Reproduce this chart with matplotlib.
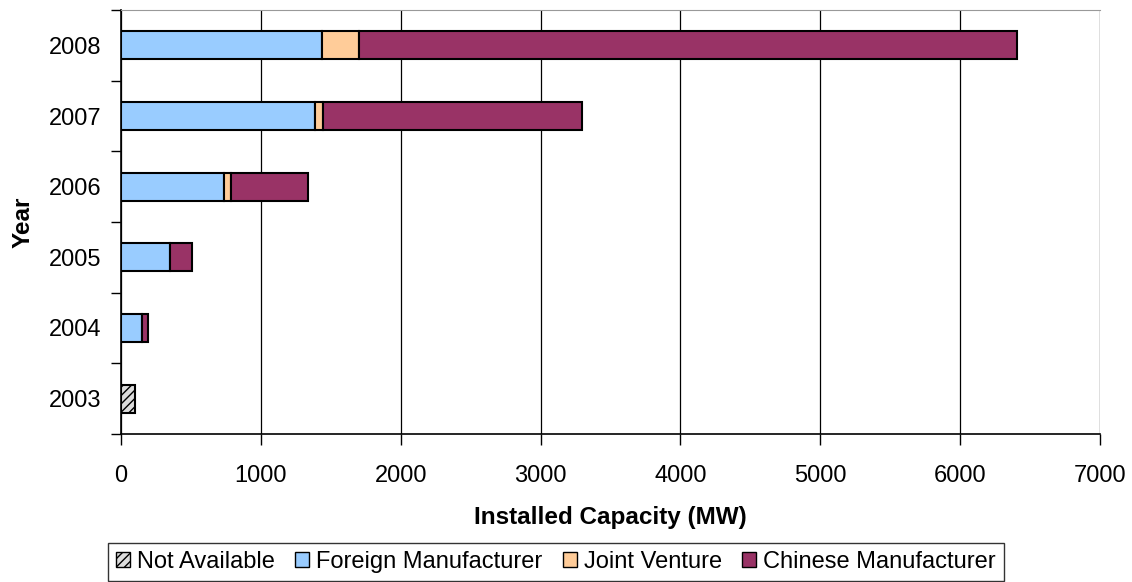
import matplotlib
matplotlib.use('Agg')
import matplotlib.pyplot as plt
import numpy as np
from matplotlib.patches import Patch

plt.rcParams['font.family'] = ['Liberation Sans', 'DejaVu Sans']
plt.rcParams['hatch.color'] = '#666666'
plt.rcParams['hatch.linewidth'] = 1.0

# data (MW)
years = ['2003', '2004', '2005', '2006', '2007', '2008']
not_available = [98, 0, 0, 0, 0, 0]
foreign = [0, 152, 352, 736, 1386, 1440]
joint_venture = [0, 0, 0, 54, 57, 260]
chinese = [0, 38, 155, 546, 1850, 4707]

series = ['Not Available', 'Foreign Manufacturer', 'Joint Venture', 'Chinese Manufacturer']
colors = ['#DDDDDD', '#99CCFF', '#FFCC99', '#993366']
hatches = ['////', None, None, None]

fig = plt.figure(figsize=(11.32, 5.82), dpi=100)
ax = fig.add_axes([121 / 1132, 1 - 434 / 582, (1100 - 121) / 1132, (434 - 10) / 582])

y = np.arange(len(years))
left = np.zeros(len(years))
for vals, col, h in zip([not_available, foreign, joint_venture, chinese], colors, hatches):
    vals = np.array(vals, dtype=float)
    mask = vals > 0
    ax.barh(y[mask], vals[mask], left=left[mask], height=0.4, color=col,
            edgecolor='black', linewidth=1.5, hatch=h, zorder=3)
    left += vals

ax.set_xlim(0, 7000)
ax.set_ylim(-0.5, len(years) - 0.5)
ax.set_xticks(np.arange(0, 7001, 1000))
ax.set_yticks(y)
ax.set_yticklabels(years)
ax.set_yticks(np.arange(-0.5, len(years), 1), minor=True)
ax.tick_params(axis='y', which='major', length=0, pad=14, labelsize=17)
ax.tick_params(axis='y', which='minor', length=7, width=1, direction='out')
ax.tick_params(axis='x', length=8, width=1, direction='out', pad=14, labelsize=17)

ax.grid(axis='x', color='black', linewidth=0.9, zorder=0)
ax.spines['top'].set_color('#999999')
ax.spines['right'].set_visible(False)
ax.spines['left'].set_linewidth(1.2)
ax.spines['bottom'].set_linewidth(1.2)

ax.set_xlabel('Installed Capacity (MW)', fontsize=17.5, fontweight='bold', labelpad=14)
ax.set_ylabel('Year', fontsize=17.5, fontweight='bold', labelpad=10)

handles = [Patch(facecolor=c, edgecolor='black', hatch=h, linewidth=1) for c, h in zip(colors, hatches)]
leg = fig.legend(handles, series, loc='center', bbox_to_anchor=(556 / 1132, 1 - 562 / 582),
                 ncol=4, fontsize=17, frameon=True, fancybox=False, edgecolor='black',
                 handlelength=0.6, handleheight=0.6, handletextpad=0.3, columnspacing=0.85,
                 borderpad=0.35, borderaxespad=0)
leg.get_frame().set_linewidth(1)

fig.savefig('out.png', dpi=100)
